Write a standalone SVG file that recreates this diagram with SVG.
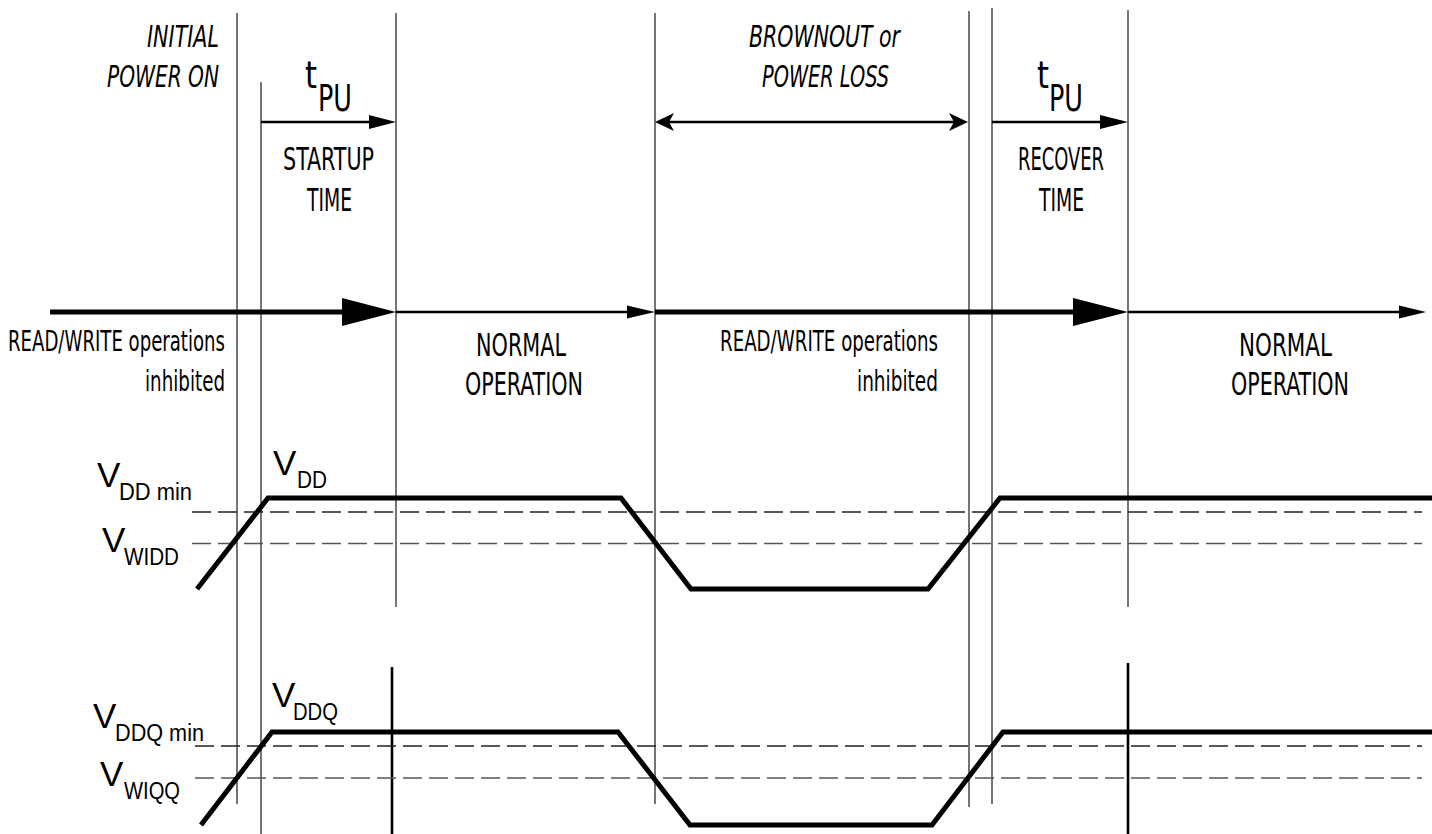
<svg xmlns="http://www.w3.org/2000/svg" width="1432" height="834" viewBox="0 0 1432 834">
<style>
.bg{fill:#fff}
.vl{stroke:#3a3a3a;stroke-width:1.4;fill:none}
.vlt{stroke:#000;stroke-width:2.6;fill:none}
.sig{stroke:#000;stroke-width:5;fill:none;stroke-linejoin:miter}
.dash1{stroke:#222;stroke-width:1.4;stroke-dasharray:19 7;fill:none}
.dash2{stroke:#555;stroke-width:1.4;stroke-dasharray:19 7;fill:none}
.thick{stroke:#000;stroke-width:5;fill:none}
.thin{stroke:#000;stroke-width:2.4;fill:none}
.ah{fill:#000;stroke:none}
.c{font-family:"Liberation Sans Narrow","DejaVu Sans Condensed","Liberation Sans",sans-serif;fill:#000}
.it{font-style:italic;font-size:31px}
.lab{font-size:32px}
.tpu{font-size:37px}
.rw{font-size:29px}
.v{font-family:"Liberation Sans","DejaVu Sans",sans-serif;fill:#000}
.vb{font-size:35px}
.vs{font-size:23px}
</style>
<rect class="bg" x="0" y="0" width="1432" height="834"/>

<g id="grid">
<line class="vl" x1="237" y1="13" x2="237" y2="804"/>
<line class="vl" x1="261" y1="82" x2="261" y2="834"/>
<line class="vl" x1="396" y1="13" x2="396" y2="607"/>
<line class="vlt" x1="392" y1="667" x2="392" y2="834"/>
<line class="vl" x1="655" y1="13" x2="655" y2="804"/>
<line class="vl" x1="969" y1="11" x2="969" y2="807"/>
<line class="vl" x1="992" y1="8" x2="992" y2="804"/>
<line class="vl" x1="1128" y1="10" x2="1128" y2="607"/>
<line class="vlt" x1="1128" y1="663" x2="1128" y2="834"/>
</g>

<g id="thresholds">
<line class="dash1" x1="192" y1="512" x2="1422" y2="512"/>
<line class="dash2" x1="192" y1="543.5" x2="1422" y2="543.5"/>
<line class="dash1" x1="195" y1="746" x2="1422" y2="746"/>
<line class="dash2" x1="195" y1="778" x2="1422" y2="778"/>
</g>

<g id="connectors">
<line class="thin" x1="261" y1="122" x2="372" y2="122"/>
<polygon class="ah" points="396,122 369,115 369,129"/>
<line class="thin" x1="992" y1="122" x2="1103" y2="122"/>
<polygon class="ah" points="1128,122 1100,115 1100,129"/>
<line class="thin" x1="668" y1="122" x2="955" y2="122"/>
<polygon class="ah" points="655,122 674,113 669,122 674,131"/>
<polygon class="ah" points="968,122 949,113 954,122 949,131"/>

<line class="thick" x1="50" y1="312" x2="345" y2="312"/>
<polygon class="ah" points="396,312 342,298 342,326"/>
<line class="thin" x1="396" y1="312" x2="630" y2="312"/>
<polygon class="ah" points="655,312 627,305.5 627,318.5"/>
<line class="thick" x1="655" y1="312" x2="1076" y2="312"/>
<polygon class="ah" points="1128,312 1073,298 1073,326"/>
<line class="thin" x1="1128" y1="312" x2="1402" y2="312"/>
<polygon class="ah" points="1426,312 1399,305.5 1399,318.5"/>
</g>

<g id="vdd-signal">
<polyline class="sig" points="197,589 268,498 621,498 691,589 928,589 1000,498 1432,498"/>
</g>
<g id="vddq-signal">
<polyline class="sig" points="201,825 272,732 618,732 690,825 932,825 1003,732 1432,732"/>
</g>

<g id="label-initial">
<text class="c it" x="219" y="47" text-anchor="end" textLength="72" lengthAdjust="spacingAndGlyphs">INITIAL</text>
<text class="c it" x="219" y="87" text-anchor="end" textLength="112" lengthAdjust="spacingAndGlyphs">POWER ON</text>
</g>
<g id="label-brownout">
<text class="c it" x="749" y="47" textLength="151" lengthAdjust="spacingAndGlyphs">BROWNOUT or</text>
<text class="c it" x="762" y="87" textLength="127" lengthAdjust="spacingAndGlyphs">POWER LOSS</text>
</g>
<g id="label-tpu1">
<text class="c tpu" x="305" y="88" textLength="12" lengthAdjust="spacingAndGlyphs">t</text>
<text class="c tpu" x="318" y="111" textLength="34" lengthAdjust="spacingAndGlyphs">PU</text>
<text class="c lab" x="283" y="170" textLength="91" lengthAdjust="spacingAndGlyphs">STARTUP</text>
<text class="c lab" x="307" y="211" textLength="45" lengthAdjust="spacingAndGlyphs">TIME</text>
</g>
<g id="label-tpu2">
<text class="c tpu" x="1037" y="88" textLength="12" lengthAdjust="spacingAndGlyphs">t</text>
<text class="c tpu" x="1049" y="111" textLength="34" lengthAdjust="spacingAndGlyphs">PU</text>
<text class="c lab" x="1018" y="170" textLength="86" lengthAdjust="spacingAndGlyphs">RECOVER</text>
<text class="c lab" x="1039" y="211" textLength="45" lengthAdjust="spacingAndGlyphs">TIME</text>
</g>
<g id="label-inhibit1">
<text class="c rw" x="225" y="351" text-anchor="end" textLength="217" lengthAdjust="spacingAndGlyphs">READ/WRITE operations</text>
<text class="c rw" x="225" y="391" text-anchor="end" textLength="80" lengthAdjust="spacingAndGlyphs">inhibited</text>
</g>
<g id="label-normal1">
<text class="c lab" x="476" y="356" textLength="90" lengthAdjust="spacingAndGlyphs">NORMAL</text>
<text class="c lab" x="465" y="395" textLength="118" lengthAdjust="spacingAndGlyphs">OPERATION</text>
</g>
<g id="label-inhibit2">
<text class="c rw" x="938" y="351" text-anchor="end" textLength="218" lengthAdjust="spacingAndGlyphs">READ/WRITE operations</text>
<text class="c rw" x="938" y="391" text-anchor="end" textLength="81" lengthAdjust="spacingAndGlyphs">inhibited</text>
</g>
<g id="label-normal2">
<text class="c lab" x="1239" y="356" textLength="93" lengthAdjust="spacingAndGlyphs">NORMAL</text>
<text class="c lab" x="1231" y="395" textLength="118" lengthAdjust="spacingAndGlyphs">OPERATION</text>
</g>

<g id="label-vddmin">
<text class="v vb" x="97" y="487">V</text>
<text class="v vs" x="119" y="500" textLength="73" lengthAdjust="spacingAndGlyphs">DD min</text>
</g>
<g id="label-vwidd">
<text class="v vb" x="102" y="552">V</text>
<text class="v vs" x="124" y="565" textLength="55" lengthAdjust="spacingAndGlyphs">WIDD</text>
</g>
<g id="label-vdd">
<text class="v vb" x="273" y="475">V</text>
<text class="v vs" x="297" y="488" textLength="30" lengthAdjust="spacingAndGlyphs">DD</text>
</g>
<g id="label-vddqmin">
<text class="v vb" x="93" y="728">V</text>
<text class="v vs" x="115" y="741" textLength="89" lengthAdjust="spacingAndGlyphs">DDQ min</text>
</g>
<g id="label-vwiqq">
<text class="v vb" x="100" y="786">V</text>
<text class="v vs" x="124" y="799" textLength="56" lengthAdjust="spacingAndGlyphs">WIQQ</text>
</g>
<g id="label-vddq">
<text class="v vb" x="272" y="707">V</text>
<text class="v vs" x="293" y="720" textLength="45" lengthAdjust="spacingAndGlyphs">DDQ</text>
</g>
</svg>
